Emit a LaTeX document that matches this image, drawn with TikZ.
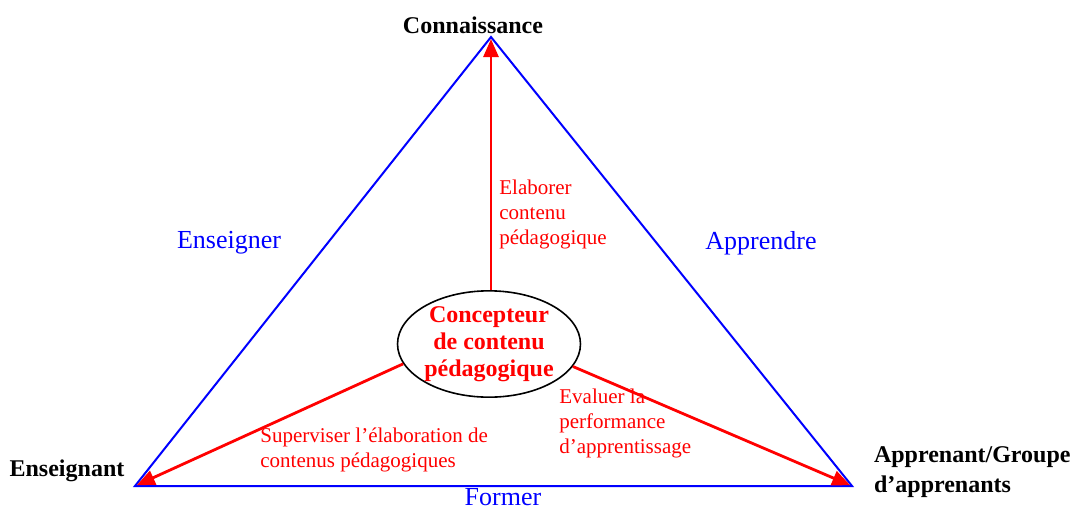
\documentclass[tikz,border=0pt]{standalone}
\usepackage{fontspec}
\setmainfont{Liberation Serif}
\usetikzlibrary{shapes.geometric,arrows.meta}

\begin{document}
\begin{tikzpicture}[x=0.5pt,y=-0.5pt,font=\rmfamily,
  side/.style={draw=blue,line width=1pt},
  task/.style={draw=red,line width=1.4pt,-{Triangle[length=9pt,width=7.5pt]},shorten >=1pt},
  pole/.style={font=\bfseries\fontsize{12}{15}\selectfont},
  verb/.style={text=blue,font=\fontsize{13}{15}\selectfont},
  act/.style={text=red,align=left,anchor=north west,inner sep=0pt,
    font=\fontsize{10.5}{12.5}\selectfont}]
\useasboundingbox (0,0) rectangle (1072,510);
% sommets du triangle
\coordinate (K) at (491,37);
\coordinate (E) at (135,486);
\coordinate (A) at (852,486);
\draw[side] (K) -- (E) -- (A) -- cycle;
\node[pole] (k-lab) at (473,25) {Connaissance};
\node[pole] (e-lab) at (67,471) {Enseignant};
\node[pole,align=left,anchor=west] (a-lab) at (867,472) {Apprenant/Groupe\\d'apprenants};
\foreach \X/\P in {Enseigner/{229,243},Apprendre/{761,243},Former/{503,497}}
  {\node[verb] (v-\X) at (\P) {\X};}
% concepteur au centre
\node[ellipse,draw,line width=0.8pt,inner sep=0pt,minimum width=89pt,minimum height=46pt,
  align=center,text=red,font=\bfseries\fontsize{12}{13.5}\selectfont] (C) at (489,344)
  {Concepteur\\de contenu\\pédagogique};
\draw[task] (C.north -| K) -- (K);
\draw[task] (C.193) -- (E);
\draw[task] (C.345) -- (A);
\node[act] (t-1) at (499,180) {Elaborer\\contenu\\pédagogique};
\node[act] (t-2) at (260,427) {Superviser l'élaboration de\\contenus pédagogiques};
\node[act] (t-3) at (559,389) {Evaluer la\\performance\\d'apprentissage};
\end{tikzpicture}
\end{document}
